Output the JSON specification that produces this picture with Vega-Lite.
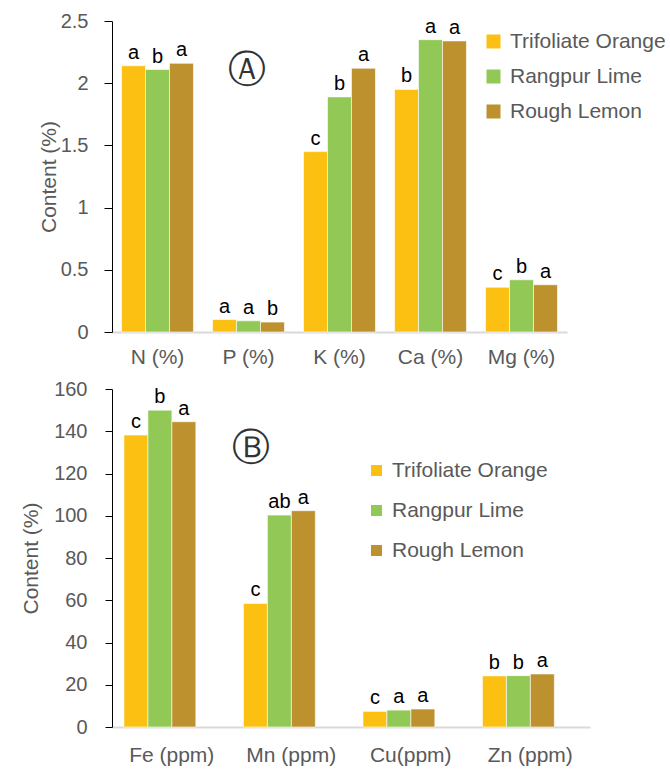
{
  "$schema": "https://vega.github.io/schema/vega-lite/v6.json",
  "padding": {"left": 20, "top": 11, "right": 5, "bottom": 5},
  "background": "white",
  "spacing": 12,
  "config": {
    "view": {"stroke": null},
    "font": "Liberation Sans",
    "axis": {
      "labelFont": "Liberation Sans",
      "titleFont": "Liberation Sans",
      "labelColor": "#595959",
      "titleColor": "#595959",
      "labelFontSize": 20,
      "titleFontSize": 21,
      "titleFontWeight": "normal",
      "grid": false
    }
  },
  "datasets": {
    "macro": [
      {"element": "N (%)", "rootstock": "Trifoliate Orange", "value": 2.14, "sig": "a"},
      {"element": "N (%)", "rootstock": "Rangpur Lime", "value": 2.11, "sig": "b"},
      {"element": "N (%)", "rootstock": "Rough Lemon", "value": 2.16, "sig": "a"},
      {"element": "P (%)", "rootstock": "Trifoliate Orange", "value": 0.10, "sig": "a"},
      {"element": "P (%)", "rootstock": "Rangpur Lime", "value": 0.09, "sig": "a"},
      {"element": "P (%)", "rootstock": "Rough Lemon", "value": 0.08, "sig": "b"},
      {"element": "K (%)", "rootstock": "Trifoliate Orange", "value": 1.45, "sig": "c"},
      {"element": "K (%)", "rootstock": "Rangpur Lime", "value": 1.89, "sig": "b"},
      {"element": "K (%)", "rootstock": "Rough Lemon", "value": 2.12, "sig": "a"},
      {"element": "Ca (%)", "rootstock": "Trifoliate Orange", "value": 1.95, "sig": "b"},
      {"element": "Ca (%)", "rootstock": "Rangpur Lime", "value": 2.35, "sig": "a"},
      {"element": "Ca (%)", "rootstock": "Rough Lemon", "value": 2.34, "sig": "a"},
      {"element": "Mg (%)", "rootstock": "Trifoliate Orange", "value": 0.36, "sig": "c"},
      {"element": "Mg (%)", "rootstock": "Rangpur Lime", "value": 0.42, "sig": "b"},
      {"element": "Mg (%)", "rootstock": "Rough Lemon", "value": 0.38, "sig": "a"}
    ],
    "micro": [
      {"element": "Fe (ppm)", "rootstock": "Trifoliate Orange", "value": 138.2, "sig": "c"},
      {"element": "Fe (ppm)", "rootstock": "Rangpur Lime", "value": 150.0, "sig": "b"},
      {"element": "Fe (ppm)", "rootstock": "Rough Lemon", "value": 144.5, "sig": "a"},
      {"element": "Mn (ppm)", "rootstock": "Trifoliate Orange", "value": 58.5, "sig": "c"},
      {"element": "Mn (ppm)", "rootstock": "Rangpur Lime", "value": 100.3, "sig": "ab"},
      {"element": "Mn (ppm)", "rootstock": "Rough Lemon", "value": 102.4, "sig": "a"},
      {"element": "Cu(ppm)", "rootstock": "Trifoliate Orange", "value": 7.4, "sig": "c"},
      {"element": "Cu(ppm)", "rootstock": "Rangpur Lime", "value": 8.0, "sig": "a"},
      {"element": "Cu(ppm)", "rootstock": "Rough Lemon", "value": 8.5, "sig": "a"},
      {"element": "Zn (ppm)", "rootstock": "Trifoliate Orange", "value": 24.2, "sig": "b"},
      {"element": "Zn (ppm)", "rootstock": "Rangpur Lime", "value": 24.3, "sig": "b"},
      {"element": "Zn (ppm)", "rootstock": "Rough Lemon", "value": 25.1, "sig": "a"}
    ],
    "panelA": [{"element": "P (%)", "value": 2.1, "label": "Ⓐ"}],
    "panelB": [{"element": "Fe (ppm)", "value": 131.5, "label": "Ⓑ"}]
  },
  "resolve": {"legend": {"color": "independent"}},
  "vconcat": [
    {
      "width": 455,
      "height": 311,
      "layer": [
        {
          "data": {"name": "macro"},
          "mark": {"type": "bar", "stroke": "white", "strokeWidth": 0.6},
          "encoding": {
            "x": {"field": "element", "type": "nominal",
              "scale": {"domain": ["N (%)", "P (%)", "K (%)", "Ca (%)", "Mg (%)"], "paddingInner": 0.21, "paddingOuter": 0.105},
              "axis": {"title": null, "labelAngle": 0, "ticks": false, "domainColor": "#D9D9D9", "domainWidth": 2, "labelPadding": 14, "labelFontSize": 21}},
            "xOffset": {"field": "rootstock", "type": "nominal", "scale": {"domain": ["Trifoliate Orange", "Rangpur Lime", "Rough Lemon"]}},
            "y": {"field": "value", "type": "quantitative", "scale": {"domain": [0, 2.5], "nice": false},
              "axis": {"title": "Content (%)", "values": [0, 0.5, 1, 1.5, 2, 2.5], "format": "~g", "domainColor": "black", "tickColor": "black", "tickSize": 8, "labelPadding": 16, "titlePadding": 1}},
            "color": {"field": "rootstock", "type": "nominal",
              "scale": {"domain": ["Trifoliate Orange", "Rangpur Lime", "Rough Lemon"], "range": ["#FCC012", "#92C855", "#BE912F"]},
              "legend": {"title": null, "orient": "none", "legendX": 371, "legendY": 10, "symbolType": "square", "symbolSize": 196, "symbolStrokeWidth": 0, "labelFontSize": 21, "labelColor": "#595959", "labelFont": "Liberation Sans", "rowPadding": 13, "labelOffset": 6, "padding": 0, "labelLimit": 300}}
          }
        },
        {
          "data": {"name": "macro"},
          "mark": {"type": "text", "baseline": "bottom", "dy": -3, "fontSize": 20, "color": "black", "font": "Liberation Sans"},
          "encoding": {
            "x": {"field": "element", "type": "nominal"},
            "xOffset": {"field": "rootstock", "type": "nominal"},
            "y": {"field": "value", "type": "quantitative"},
            "text": {"field": "sig"}
          }
        },
        {
          "data": {"name": "panelA"},
          "mark": {"type": "text", "baseline": "middle", "align": "center", "dx": -2, "fontSize": 38, "color": "#333333", "font": "DejaVu Sans"},
          "encoding": {
            "x": {"field": "element", "type": "nominal"},
            "y": {"field": "value", "type": "quantitative"},
            "text": {"field": "label"}
          }
        }
      ]
    },
    {
      "width": 478,
      "height": 338,
      "layer": [
        {
          "data": {"name": "micro"},
          "mark": {"type": "bar", "stroke": "white", "strokeWidth": 0.6},
          "encoding": {
            "x": {"field": "element", "type": "nominal",
              "scale": {"domain": ["Fe (ppm)", "Mn (ppm)", "Cu(ppm)", "Zn (ppm)"], "paddingInner": 0.2, "paddingOuter": 0.1},
              "axis": {"title": null, "labelAngle": 0, "ticks": false, "domainColor": "#D9D9D9", "domainWidth": 2, "labelPadding": 17, "labelFontSize": 21}},
            "xOffset": {"field": "rootstock", "type": "nominal", "scale": {"domain": ["Trifoliate Orange", "Rangpur Lime", "Rough Lemon"]}},
            "y": {"field": "value", "type": "quantitative", "scale": {"domain": [0, 160], "nice": false},
              "axis": {"title": "Content (%)", "values": [0, 20, 40, 60, 80, 100, 120, 140, 160], "domainColor": "black", "tickColor": "black", "tickSize": 7, "labelPadding": 18, "titlePadding": 12}},
            "color": {"field": "rootstock", "type": "nominal",
              "scale": {"domain": ["Trifoliate Orange", "Rangpur Lime", "Rough Lemon"], "range": ["#FCC012", "#92C855", "#BE912F"]},
              "legend": {"title": null, "orient": "none", "legendX": 254, "legendY": 71, "symbolType": "square", "symbolSize": 121, "symbolStrokeWidth": 0, "labelFontSize": 21, "labelColor": "#595959", "labelFont": "Liberation Sans", "rowPadding": 18, "labelOffset": 5, "padding": 0, "labelLimit": 300}}
          }
        },
        {
          "data": {"name": "micro"},
          "mark": {"type": "text", "baseline": "bottom", "dy": -3, "fontSize": 20, "color": "black", "font": "Liberation Sans"},
          "encoding": {
            "x": {"field": "element", "type": "nominal"},
            "xOffset": {"field": "rootstock", "type": "nominal"},
            "y": {"field": "value", "type": "quantitative"},
            "text": {"field": "sig"}
          }
        },
        {
          "data": {"name": "panelB"},
          "mark": {"type": "text", "baseline": "middle", "align": "center", "dx": 79, "fontSize": 38, "color": "#333333", "font": "DejaVu Sans"},
          "encoding": {
            "x": {"field": "element", "type": "nominal"},
            "y": {"field": "value", "type": "quantitative"},
            "text": {"field": "label"}
          }
        }
      ]
    }
  ]
}
